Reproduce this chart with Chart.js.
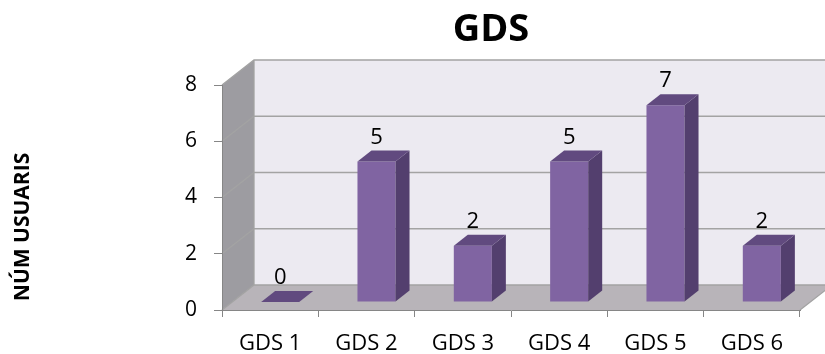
<!DOCTYPE html>
<html>
<head>
<meta charset="utf-8">
<title>GDS</title>
<script src="https://cdn.jsdelivr.net/npm/chart.js@4/dist/chart.umd.min.js"></script>
<style>
  body { margin: 0; background: #fff; }
</style>
</head>
<body>
<canvas id="chart" width="825" height="354"></canvas>
<script>
const categories = ["GDS 1", "GDS 2", "GDS 3", "GDS 4", "GDS 5", "GDS 6"];
const usuaris = [0, 5, 2, 5, 7, 2];
const yTicks = [0, 2, 4, 6, 8];

const chartTitle = "GDS";
const yTitle = "NÚM USUARIS";

// 3d look: wall depth, bar position inside the floor, bar depth
const WALL_DX = 32, WALL_DY = 25;
const BAR_OX = 10, BAR_OY = 8;
const BAR_DX = 14, BAR_DY = 11;

function poly(ctx, pts, fill, stroke) {
    ctx.beginPath();
    ctx.moveTo(pts[0][0], pts[0][1]);
    for (let i = 1; i < pts.length; i++) ctx.lineTo(pts[i][0], pts[i][1]);
    ctx.closePath();
    if (fill) { ctx.fillStyle = fill; ctx.fill(); }
    if (stroke) { ctx.strokeStyle = stroke; ctx.lineWidth = 1; ctx.stroke(); }
}

const walls = {
    id: "walls",
    beforeDraw(chart) {
        const { ctx, chartArea: a, scales } = chart;
        const y = scales.y;
        ctx.save();
        // back wall
        ctx.fillStyle = "#ECEAF1";
        ctx.fillRect(a.left + WALL_DX, a.top - WALL_DY, a.width, a.height);
        // side wall
        poly(ctx, [[a.left, a.top], [a.left + WALL_DX, a.top - WALL_DY],
            [a.left + WALL_DX, a.bottom - WALL_DY], [a.left, a.bottom]], "#9D9CA1");
        // floor
        poly(ctx, [[a.left, a.bottom], [a.right, a.bottom],
            [a.right + WALL_DX, a.bottom - WALL_DY], [a.left + WALL_DX, a.bottom - WALL_DY]], "#B8B4B9");

        ctx.strokeStyle = "#A3A3A3";
        ctx.lineWidth = 1.3;
        yTicks.forEach((v) => {
            const py = y.getPixelForValue(v);
            ctx.beginPath();
            ctx.moveTo(a.left, py);
            ctx.lineTo(a.left + WALL_DX, py - WALL_DY);
            ctx.lineTo(a.right + WALL_DX, py - WALL_DY);
            ctx.stroke();
        });
        ctx.beginPath();
        ctx.moveTo(a.left + WALL_DX, a.top - WALL_DY);
        ctx.lineTo(a.left + WALL_DX, a.bottom - WALL_DY);
        ctx.moveTo(a.right, a.bottom);
        ctx.lineTo(a.right + WALL_DX, a.bottom - WALL_DY);
        ctx.stroke();
        ctx.restore();
    },
    beforeDatasetsDraw(chart) {
        chart.ctx.save();
        chart.ctx.translate(BAR_OX, -BAR_OY);
    },
    afterDatasetsDraw(chart) {
        const ctx = chart.ctx;
        const meta = chart.getDatasetMeta(0);
        meta.data.forEach((bar, i) => {
            const { x, y, base, width } = bar.getProps(["x", "y", "base", "width"], true);
            const l = x - width / 2, r = x + width / 2;
            poly(ctx, [[r, y], [r + BAR_DX, y - BAR_DY], [r + BAR_DX, base - BAR_DY], [r, base]], "#533F6E");
            poly(ctx, [[l, y], [l + BAR_DX, y - BAR_DY], [r + BAR_DX, y - BAR_DY], [r, y]], "#614A7F");
            ctx.fillStyle = "#000";
            ctx.font = "22px 'Open Sans'";
            ctx.textAlign = "center";
            ctx.textBaseline = "middle";
            ctx.fillText(String(usuaris[i]), x, y - 24);
        });
        ctx.restore();
    },
    afterDraw(chart) {
        const ctx = chart.ctx;
        ctx.save();
        ctx.fillStyle = "#000";
        ctx.textAlign = "center";
        ctx.textBaseline = "middle";
        ctx.font = "bold 38px 'Open Sans'";
        ctx.fillText(chartTitle, 491, 30);
        ctx.translate(23, 227);
        ctx.rotate(-Math.PI / 2);
        ctx.font = "bold 21px 'Open Sans'";
        ctx.fillText(yTitle, 0, 0);
        ctx.restore();
    }
};

new Chart(document.getElementById("chart"), {
    type: "bar",
    data: {
        labels: categories,
        datasets: [{
            label: "Núm usuaris",
            data: usuaris,
            backgroundColor: "#8064A2",
            borderWidth: 0,
            categoryPercentage: 1,
            barPercentage: 0.395,
            clip: false,
        }],
    },
    options: {
        responsive: false,
        animation: false,
        devicePixelRatio: 1,
        layout: { padding: { top: 85, right: 25, left: 10, bottom: 0 } },
        plugins: {
            legend: { display: false },
            tooltip: { enabled: false },
        },
        scales: {
            x: {
                offset: true,
                grid: { offset: true, drawOnChartArea: false, tickLength: 7, color: "#868686" },
                border: { color: "#868686" },
                ticks: { color: "#000", font: { family: "'Open Sans'", size: 22 }, padding: 14 },
                afterFit: (s) => { s.height = 44; },
            },
            y: {
                min: 0,
                max: 8,
                afterBuildTicks: (s) => { s.ticks = yTicks.map((v) => ({ value: v })); },
                grid: { drawOnChartArea: false, tickLength: 8, color: "#868686" },
                border: { color: "#868686" },
                ticks: { color: "#000", font: { family: "'Open Sans'", size: 21 }, padding: 17 },
                afterFit: (s) => { s.width = 212; },
            },
        },
    },
    plugins: [walls],
});
</script>
</body>
</html>
